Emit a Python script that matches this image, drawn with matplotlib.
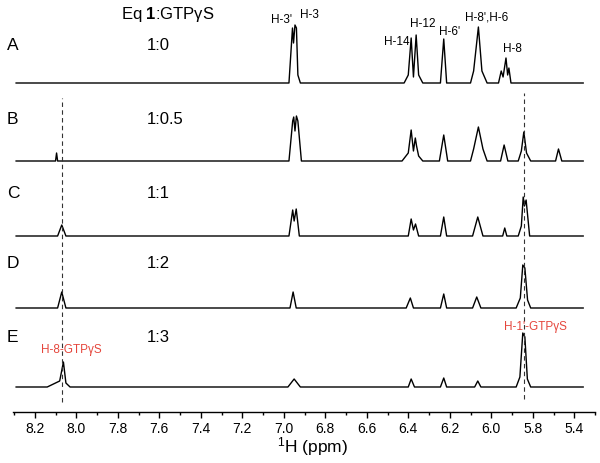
import matplotlib
matplotlib.use("Agg")
import matplotlib.pyplot as plt

plt.rcParams['font.family'] = ['Liberation Sans', 'DejaVu Sans']
plt.rcParams['mathtext.fontset'] = 'custom'
plt.rcParams['mathtext.rm'] = 'Liberation Sans'
plt.rcParams['mathtext.bf'] = 'Liberation Sans:bold'
plt.rcParams['mathtext.it'] = 'Liberation Sans:italic'

# ---- data (ppm vertices, intensity in arbitrary units) ----
trace_names = ["A", "B", "C", "D", "E"]
ratios = ["1:0", "1:0.5", "1:1", "1:2", "1:3"]

ppm_A = [8.29, 6.975, 6.958, 6.953, 6.946, 6.939, 6.932, 6.920, 6.42, 6.40, 6.386, 6.375,
         6.362, 6.350, 6.33, 6.245, 6.229, 6.215, 6.10, 6.085, 6.062, 6.045, 6.02, 5.965,
         5.952, 5.943, 5.929, 5.921, 5.915, 5.905, 5.557]
int_A = [0, 0, 55, 40, 58, 55, 8, 0, 0, 8, 45, 6, 48, 8, 0, 0, 44, 0, 0, 12, 56, 12, 0, 0,
         12, 6, 25, 8, 15, 0, 0]

ppm_B = [8.29, 8.10, 8.095, 8.09, 6.975, 6.957, 6.952, 6.946, 6.939, 6.932, 6.915, 6.43, 6.40,
         6.386, 6.375, 6.366, 6.36, 6.35, 6.33, 6.25, 6.229, 6.21, 6.10, 6.085, 6.062, 6.04,
         6.02, 5.955, 5.938, 5.92, 5.87, 5.855, 5.843, 5.83, 5.81, 5.69, 5.676, 5.66, 5.557]
int_B = [0, 0, 8, 0, 0, 40, 44, 30, 45, 40, 0, 0, 8, 31, 10, 23, 15, 5, 0, 0, 26, 0, 0, 12,
         34, 12, 0, 0, 16, 0, 0, 10, 29, 8, 0, 0, 12, 0, 0]

ppm_C = [8.29, 8.09, 8.07, 8.05, 6.975, 6.957, 6.950, 6.940, 6.925, 6.40, 6.386, 6.375, 6.365,
         6.35, 6.245, 6.229, 6.215, 6.09, 6.065, 6.04, 5.945, 5.935, 5.925, 5.87, 5.855,
         5.846, 5.840, 5.832, 5.815, 5.557]
int_C = [0, 0, 11, 0, 0, 26, 15, 27, 0, 0, 17, 6, 12, 0, 0, 19, 0, 0, 19, 0, 0, 8, 0, 0, 10,
         39, 30, 36, 0, 0]

ppm_D = [8.29, 8.09, 8.07, 8.05, 6.97, 6.955, 6.94, 6.41, 6.39, 6.375, 6.245, 6.229, 6.215,
         6.09, 6.07, 6.05, 5.88, 5.86, 5.848, 5.838, 5.825, 5.81, 5.557]
int_D = [0, 0, 16, 0, 0, 16, 0, 0, 10, 0, 0, 14, 0, 0, 11, 0, 0, 10, 43, 40, 8, 0, 0]

ppm_E = [8.29, 8.14, 8.08, 8.062, 8.05, 8.03, 6.98, 6.95, 6.92, 6.40, 6.386, 6.37, 6.245,
         6.229, 6.215, 6.08, 6.065, 6.05, 5.88, 5.862, 5.848, 5.838, 5.826, 5.81, 5.557]
int_E = [0, 0, 6, 25, 4, 0, 0, 8, 0, 0, 8, 0, 0, 9, 0, 0, 6, 0, 0, 10, 54, 50, 8, 0, 0]

tick_pos = [8.2, 8.0, 7.8, 7.6, 7.4, 7.2, 7.0, 6.8, 6.6, 6.4, 6.2, 6.0, 5.8, 5.6]
tick_labels = ["8.2", "8.0", "7.8", "7.6", "7.4", "7.2", "7.0", "6.8", "6.6", "6.4",
               "6.2", "6.0", "5.8", "5.4"]

peak_labels = ["H-3'", "H-3", "H-14", "H-12", "H-6'", "H-8',H-6", "H-8"]
gtp_ppm = [8.067, 5.843]
gtp_labels = ["H-8-GTPγS", "H-1'-GTPγS"]

# ---- layout ----
W, H = 600, 463
fig = plt.figure(figsize=(W / 100, H / 100), dpi=100)
ax = fig.add_axes([13 / W, 51 / H, 582 / W, 412 / H])
ax.set_xlim(8.305, 5.53)
ax.set_ylim(0, 412)

offsets = [329, 251, 176, 104, 25]
series = [(ppm_A, int_A), (ppm_B, int_B), (ppm_C, int_C), (ppm_D, int_D), (ppm_E, int_E)]
for (p, v), off in zip(series, offsets):
    ax.plot(p, [off + y for y in v], color='black', lw=1.0)

# dashed reference lines
ax.plot([gtp_ppm[0]] * 2, [10, 314], color='#333333', lw=0.8, ls=(0, (4, 3)))
ax.plot([gtp_ppm[1]] * 2, [13, 319], color='#333333', lw=0.8, ls=(0, (4, 3)))

for s in ['left', 'right', 'top']:
    ax.spines[s].set_visible(False)
ax.spines['bottom'].set_linewidth(1.0)
ax.set_yticks([])
ax.set_xticks(tick_pos)
ax.set_xticklabels(tick_labels, fontsize=10)
ax.set_xticks([t - 0.1 for t in tick_pos] + [8.3], minor=True)
ax.tick_params(axis='x', which='major', direction='out', length=4, width=1, pad=3)
ax.tick_params(axis='x', which='minor', direction='out', length=2.5, width=1)


def ftext(x, y, s, **kw):
    fig.text(x / W, 1 - y / H, s, **kw)


ftext(313, 447, r"$^{1}$H (ppm)", fontsize=12.5, ha='center', va='center')
ftext(168, 14, r"Eq $\mathbf{1}$:GTPγS", fontsize=12, ha='center', va='center')

label_y = [46, 120, 193, 263, 337]
for n, r, y in zip(trace_names, ratios, label_y):
    ftext(7, y, n, fontsize=12.5, ha='left', va='center')
    ftext(147, y, r, fontsize=12, ha='left', va='center')

peak_xy = [(282, 20), (309, 15), (397, 42), (423, 24), (450, 32), (487, 18), (512, 49)]
for s, (x, y) in zip(peak_labels, peak_xy):
    ftext(x, y, s, fontsize=8.5, ha='center', va='center')

red = '#e5463c'
ftext(71, 350, gtp_labels[0], fontsize=8.5, ha='center', va='center', color=red)
ftext(535, 327, gtp_labels[1], fontsize=8.5, ha='center', va='center', color=red)

fig.savefig("out.png", dpi=100)
